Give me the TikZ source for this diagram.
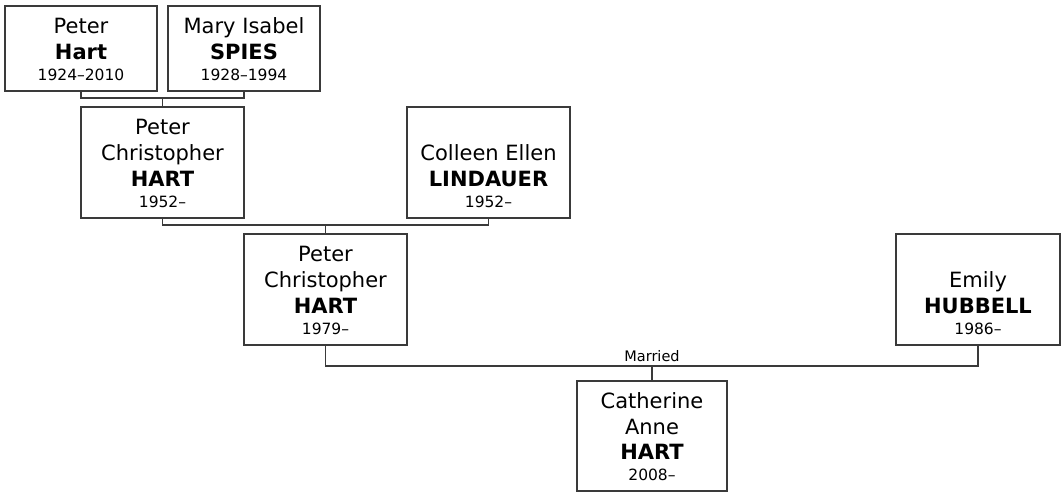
\documentclass[tikz,border=0pt]{standalone}
\usepackage{fontspec}
\setmainfont{DejaVu Sans}
\definecolor{ln}{HTML}{3A3A3A}
\newcommand{\yr}[1]{{\fontsize{15.5}{19}\selectfont #1\rule[-3.5pt]{0pt}{3.5pt}}}
\newcommand{\topstrut}{\rule{0pt}{20.5pt}}
\newcommand{\blankline}{\phantom{Peter}}
\begin{document}
\begin{tikzpicture}[x=1pt,y=-1pt,
  person/.style={draw=ln, line width=1.2pt, rectangle, inner sep=0pt,
    anchor=center, align=center, text=black,
    font=\fontsize{21}{25.7}\selectfont},
  short/.style={minimum width=152pt, minimum height=85pt},
  tall/.style={minimum height=111pt},
  link/.style={draw=ln, line width=1.2pt},
  lbl/.style={font=\fontsize{14.5}{17}\selectfont, anchor=base, inner sep=0pt, text=black}]
\useasboundingbox (0,0) rectangle (1062,493);

\node[person, short] (b1) at (81,48.5) {\topstrut Peter\\\textbf{Hart}\\[-4.7pt]\yr{1924–2010}};
\node[person, short] (b2) at (244,48.5) {\topstrut Mary Isabel\\\textbf{SPIES}\\[-4.7pt]\yr{1928–1994}};

\node[person, tall, minimum width=163pt] (b3) at (162.5,162.5) {\topstrut Peter\\Christopher\\\textbf{HART}\\[-4.7pt]\yr{1952–}};
\node[person, tall, minimum width=163pt] (b4) at (488.5,162.5) {\topstrut\blankline\\Colleen Ellen\\\textbf{LINDAUER}\\[-4.7pt]\yr{1952–}};

\node[person, tall, minimum width=163pt] (b5) at (325.5,289.5) {\topstrut Peter\\Christopher\\\textbf{HART}\\[-4.7pt]\yr{1979–}};
\node[person, tall, minimum width=164pt] (b6) at (978,289.5) {\topstrut\blankline\\Emily\\\textbf{HUBBELL}\\[-4.7pt]\yr{1986–}};

\node[person, minimum width=150pt, minimum height=110pt] (b7) at (652,436) {\topstrut Catherine\\Anne\\\textbf{HART}\\[-4.7pt]\yr{2008–}};

\coordinate (j1) at (162.5,98);
\coordinate (j2) at (325.5,225);
\coordinate (j3) at (652,366);

\draw[link] (b1.south) |- (j1) -| (b2.south);
\draw[link] (j1) -- (b3.north);
\draw[link] (b3.south) |- (j2) -| (b4.south);
\draw[link] (j2) -- (b5.north);
\draw[link] (b5.south) |- (j3) -| (b6.south);
\draw[link] (j3) -- (b7.north);

\node[lbl] (mar) at (652,361) {Married};
\end{tikzpicture}
\end{document}
